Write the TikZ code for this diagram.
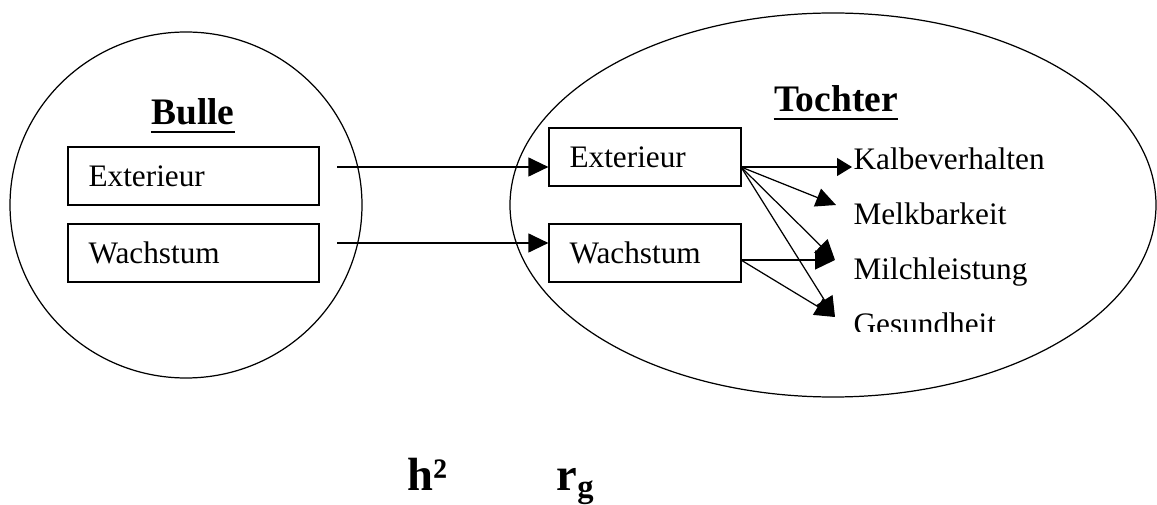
\documentclass[tikz,border=0pt]{standalone}
\usepackage{fontspec}
\setmainfont{Liberation Serif}
\usetikzlibrary{arrows.meta,shapes.geometric}

\begin{document}
\begin{tikzpicture}[x=1cm,y=1cm,line width=0.7pt,
  gruppe/.style={draw,ellipse,inner sep=0pt},
  leftbox/.style={draw,minimum height=1.16cm,inner xsep=0.41cm,text width=4.2cm,align=left,text height=0.44cm,text depth=0cm,font=\fontsize{17.8}{20}\selectfont},
  rightbox/.style={leftbox,text width=3.02cm},
  titel/.style={anchor=base,inner sep=0pt,font=\fontsize{21.3}{24}\selectfont\bfseries},
  strich/.style={line width=1.1pt},
  merkmal/.style={anchor=base west,inner sep=0pt,font=\fontsize{17.8}{20}\selectfont},
  formel/.style={anchor=base west,inner sep=0pt,font=\fontsize{26.5}{30}\selectfont\bfseries},
  pfeil/.style={-{Triangle[length=0.4cm,width=0.38cm]}}]
\path[use as bounding box] (0,0) rectangle (23.14,10.10);
% Bulle
\node[gruppe,minimum width=7.04cm,minimum height=6.92cm] (bulle) at (3.72,6.00) {};
\node[titel] (bulletitel) at (3.86,7.60) {Bulle};
\draw[strich] ([yshift=-0.14cm]bulletitel.base west) -- ([yshift=-0.14cm]bulletitel.base east);
\node[leftbox] (bext) at (3.87,6.58) {Exterieur};
\node[leftbox] (bwachs) at (3.87,5.04) {Wachstum};
% Tochter
\node[gruppe,minimum width=12.92cm,minimum height=7.68cm] (tochter) at (16.66,6.00) {};
\node[titel] (tochtertitel) at (16.72,7.86) {Tochter};
\draw[strich] ([yshift=-0.14cm]tochtertitel.base west) -- ([yshift=-0.14cm]tochtertitel.base east);
\node[rightbox] (text) at (12.90,6.96) {Exterieur};
\node[rightbox] (twachs) at (12.90,5.04) {Wachstum};
\node[merkmal] (kalb) at (17.06,6.70) {Kalbeverhalten};
\node[merkmal] (melk) at (17.06,5.60) {Melkbarkeit};
\node[merkmal] (milch) at (17.06,4.50) {Milchleistung};
\begin{scope}
\clip (16.80,3.46) rectangle (20.00,4.20);
\node[merkmal] (gesund) at (17.06,3.40) {Gesundheit};
\end{scope}
% Pfeile
\coordinate (a1) at (6.74,6.76);
\coordinate (a2) at (6.74,5.24);
\coordinate (sE) at (14.82,6.76);
\coordinate (sW) at (14.82,4.90);
\coordinate (tK) at (17.04,6.76);
\coordinate (tM) at (16.72,6.00);
\coordinate (tL) at (16.70,4.90);
\coordinate (tG) at (16.70,3.76);
\draw[pfeil] (a1) -- (a1 -| text.west);
\draw[pfeil] (a2) -- (a2 -| twachs.west);
\draw[-{Triangle[length=0.3cm,width=0.36cm]}] (sE) -- (tK);
\draw[pfeil] (sE) -- (tM);
\draw[pfeil] (sE) -- (tL);
\draw[pfeil] (sE) -- (tG);
\draw[pfeil] (sW) -- (tL);
\draw[pfeil] (sW) -- (tG);
% Formeln
\node[formel] (h2) at (8.14,0.28) {h²};
\node[formel] (rg) at (11.12,0.28) {r\textsubscript{g}};
\end{tikzpicture}
\end{document}
